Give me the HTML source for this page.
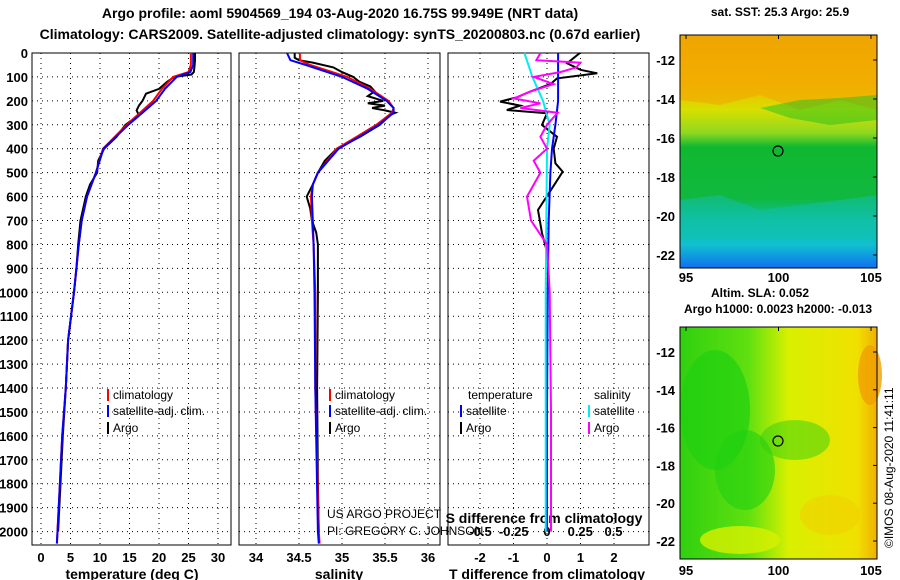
<!DOCTYPE html>
<html><head><meta charset="utf-8"><style>
body{margin:0;background:#fff;}
svg{display:block;font-family:"Liberation Sans",sans-serif;}
.t{font-weight:bold;font-size:14px;fill:#000;}
.ts{font-weight:bold;font-size:12px;fill:#000;}
.tk{font-weight:bold;font-size:13px;fill:#000;}
.lg{font-size:12px;fill:#000;}
</style></head><body>
<svg id="c" width="900" height="580" viewBox="0 0 900 580">
<defs>
<linearGradient id="sst" x1="0" y1="0" x2="0" y2="1">
<stop offset="0" stop-color="#f0a000"/><stop offset="0.22" stop-color="#f4b800"/>
<stop offset="0.32" stop-color="#d8e000"/><stop offset="0.42" stop-color="#90d820"/>
<stop offset="0.48" stop-color="#10b830"/><stop offset="0.7" stop-color="#10b840"/>
<stop offset="0.8" stop-color="#10c0a0"/><stop offset="0.9" stop-color="#10c0d0"/>
<stop offset="1" stop-color="#1070f0"/></linearGradient>
<linearGradient id="sla" x1="0" y1="0" x2="1" y2="0">
<stop offset="0" stop-color="#30d010"/><stop offset="0.35" stop-color="#60e010"/>
<stop offset="0.55" stop-color="#d8f000"/><stop offset="0.9" stop-color="#f0e000"/>
<stop offset="1" stop-color="#f0b000"/></linearGradient>
</defs>
<text class="t" x="340" y="18" text-anchor="middle">Argo profile: aoml 5904569_194 03-Aug-2020 16.75S 99.949E (NRT data)</text>
<text class="t" x="340" y="39" text-anchor="middle">Climatology: CARS2009. Satellite-adjusted climatology: synTS_20200803.nc (0.67d earlier)</text>
<g id="plots"></g>
<g>
<rect x="680" y="35" width="197" height="233" fill="url(#sst)"/>
<path d="M680,100 L720,105 L760,95 L800,110 L840,100 L877,110 L877,35 L680,35Z" fill="#f0a800" opacity="0.6"/>
<path d="M760,108 L800,100 L840,98 L877,95 L877,120 L830,125 L790,118Z" fill="#20c020" opacity="0.5"/>
<path d="M680,200 L720,195 L760,210 L800,205 L840,200 L877,195 L877,240 L680,240Z" fill="#10c0b0" opacity="0.5"/>
<circle cx="778" cy="151" r="5" fill="none" stroke="#000" stroke-width="1.2"/>
<rect x="680" y="35" width="197" height="233" fill="none" stroke="#000"/>
</g>
<text class="ts" x="780" y="16" text-anchor="middle">sat. SST: 25.3 Argo: 25.9</text>
<g>
<rect x="680" y="327" width="197" height="232" fill="url(#sla)"/>
<ellipse cx="715" cy="410" rx="35" ry="60" fill="#20d010" opacity="0.7"/>
<ellipse cx="745" cy="470" rx="30" ry="40" fill="#20d010" opacity="0.6"/>
<ellipse cx="795" cy="440" rx="35" ry="20" fill="#30d010" opacity="0.5"/>
<ellipse cx="740" cy="540" rx="40" ry="14" fill="#d8f000" opacity="0.8"/>
<ellipse cx="870" cy="375" rx="12" ry="30" fill="#f0a000" opacity="0.8"/>
<ellipse cx="830" cy="515" rx="30" ry="20" fill="#f0d000" opacity="0.6"/>
<circle cx="778" cy="441" r="5" fill="none" stroke="#000" stroke-width="1.2"/>
<rect x="680" y="327" width="197" height="232" fill="none" stroke="#000"/>
</g>
<text class="ts" x="760" y="297" text-anchor="middle">Altim. SLA: 0.052</text>
<text class="ts" x="778" y="313" text-anchor="middle">Argo h1000: 0.0023 h2000: -0.013</text>
<text x="893" y="548" font-size="12" transform="rotate(-90 893 548)">©IMOS 08-Aug-2020 11:41:11</text>
<g id="maps"></g>
</svg>
<script>
// ---- data ----
const depthTicks=[0,100,200,300,400,500,600,700,800,900,1000,1100,1200,1300,1400,1500,1600,1700,1800,1900,2000];
const tempTicks=[0,5,10,15,20,25,30];
const salTicks=[34,34.5,35,35.5,36];
const dTTicks=[-2,-1,0,1,2];
const dSTicks=[-0.5,-0.25,0,0.25,0.5];
const latTicks=[-12,-14,-16,-18,-20,-22];
const lonTicks=[95,100,105];

const tDepth=[0,50,80,100,150,200,250,300,350,400,500,600,700,800,900,1000,1200,1400,1600,1800,2000,2050];
const tClim=[25.4,25.4,25,22.4,20.5,19,16.8,14.5,12.5,10.5,9.3,7.8,6.9,6.4,6,5.6,4.6,4.2,3.6,3.2,2.8,2.7];
const tSat=[25.8,25.8,25.3,23,21,19.5,17.2,14.8,12.7,10.6,9.3,7.8,6.9,6.4,6,5.6,4.6,4.2,3.6,3.2,2.8,2.7];
const aDepth=[0,30,60,80,90,100,120,150,170,200,220,240,260,300,350,400,450,500,550,600,700,800,900,1000,1200,1400,1600,1800,2000];
const tArgo=[26.1,26.1,26,25.9,25.5,22.6,21.4,20,17.8,17.2,16.6,16.2,16.6,14.3,12.8,10.7,9.7,9.5,8.3,7.6,6.7,6.3,6,5.6,4.6,4.2,3.7,3.3,2.9];

const sDepth=[0,30,50,100,150,200,230,250,300,350,400,500,550,600,700,800,1000,1400,2000,2050];
const sClim=[34.51,34.51,34.63,35.06,35.33,35.54,35.6,35.58,35.4,35.17,34.94,34.72,34.66,34.64,34.65,34.67,34.69,34.69,34.73,34.74];
const sSat=[34.36,34.4,34.58,35.0,35.3,35.52,35.6,35.6,35.43,35.2,34.96,34.72,34.66,34.65,34.66,34.67,34.68,34.69,34.72,34.73];
const saDepth=[0,20,30,40,60,80,100,120,140,160,180,200,210,220,230,240,250,260,280,300,350,400,450,500,550,600,650,700,750,800,1000,1400,1800,2000];
const sArgo=[34.45,34.45,34.5,34.66,34.9,35.0,35.13,35.2,35.33,35.38,35.3,35.48,35.3,35.5,35.35,35.5,35.62,35.55,35.5,35.44,35.21,34.94,34.8,34.72,34.66,34.59,34.63,34.65,34.7,34.72,34.72,34.71,34.72,34.73];

const dtDepth=[0,43,70,85,106,130,161,185,203,220,238,252,301,350,400,461,496,559,656,753,830];
const dtArgo=[0.98,0.6,1.0,1.5,0.3,0.1,-0.5,-0.9,-1.4,-0.8,-1.2,0.0,-0.15,0.3,0.2,0.25,0.47,0.18,-0.27,-0.15,0.0];
const dtsDepth=[0,100,200,300,400,500,700,1000,1500,2000];
const dtSat=[0.33,0.33,0.33,0.25,0.15,0.1,0.05,0.02,0.0,0.0];
const dsDepth=[0,30,40,60,80,100,130,160,190,210,230,250,300,350,400,450,500,600,700,800,1000,1500,2000];
const dsArgo=[-0.05,-0.08,0.25,0.22,0.1,-0.1,0.05,-0.12,-0.25,-0.05,-0.2,0.08,0.0,-0.05,0.0,-0.1,-0.05,-0.15,-0.12,0.0,0.02,0.03,0.03];
const dssDepth=[0,100,200,300,400,1000,2000];
const dsSat=[-0.17,-0.11,-0.03,0.02,0.0,-0.01,-0.01];

// ---- axes ----
const Y0=53,YB=545;
const yD=d=>Y0+d*0.2393;
const xT=v=>41+v*5.9;
const xS=v=>256+(v-34)*86;
const xDT=v=>547+v*33.5;
const xDS=v=>547+v*133;
const NS='http://www.w3.org/2000/svg';
const g=document.getElementById('plots');
function el(tag,attrs,parent){const e=document.createElementNS(NS,tag);for(const k in attrs)e.setAttribute(k,attrs[k]);(parent||g).appendChild(e);return e;}
const panels=[{x0:32,x1:231,name:'temperature-panel'},{x0:239,x1:440,name:'salinity-panel'},{x0:448,x1:649,name:'difference-panel'}];
panels.forEach(p=>{
  const r=el('rect',{x:p.x0,y:Y0,width:p.x1-p.x0,height:YB-Y0,fill:'none',stroke:'#000'});
  
  
  depthTicks.forEach(d=>{const l=el('line',{x1:p.x0,x2:p.x1,y1:yD(d),y2:yD(d),stroke:'#000','stroke-dasharray':'1 4'});
    
    });
});
depthTicks.forEach(d=>{const t=el('text',{x:28,y:yD(d)+5,'text-anchor':'end',class:'tk'});t.textContent=d;
  
  });
function vgrid(ticks,f,lblY){ticks.forEach(v=>{
  const l=el('line',{x1:f(v),x2:f(v),y1:Y0,y2:YB,stroke:'#000','stroke-dasharray':'1 4'});
  
  
  const t=el('text',{x:f(v),y:lblY,'text-anchor':'middle',class:'tk'});t.textContent=v;
  
  });}
vgrid(tempTicks,xT,562);vgrid(salTicks,xS,562);vgrid(dTTicks,xDT,562);
dSTicks.forEach(v=>{const t=el('text',{x:xDS(v),y:536,'text-anchor':'middle',class:'tk'});t.textContent=v;
  
  });
[['temperature (deg C)',132],['salinity',339],['T difference from climatology',547]].forEach(a=>{
  const t=el('text',{x:a[1],y:579,'text-anchor':'middle',class:'t'});t.textContent=a[0];
  
  });
const st=el('text',{x:544,y:523,'text-anchor':'middle',class:'t'});st.textContent='S difference from climatology';


function line(xs,ds,fx,col,w,name){
  const pts=xs.map((v,i)=>fx(v).toFixed(1)+','+yD(ds[i]).toFixed(1)).join(' ');
  const p=el('polyline',{points:pts,fill:'none',stroke:col,'stroke-width':w});
  
  }
line(tArgo,aDepth,xT,'#000',2,'temp-argo-line');
line(tClim,tDepth,xT,'#f00',2,'temp-climatology-line');
line(tSat,tDepth,xT,'#00f',2,'temp-satellite-line');
line(sArgo,saDepth,xS,'#000',2,'sal-argo-line');
line(sClim,sDepth,xS,'#f00',2,'sal-climatology-line');
line(sSat,sDepth,xS,'#00f',2,'sal-satellite-line');
line(dtArgo,dtDepth,xDT,'#000',2,'tdiff-argo-line');
line(dtSat,dtsDepth,xDT,'#00f',2,'tdiff-satellite-line');
line(dsSat,dssDepth,xDS,'#0ee',2,'sdiff-satellite-line');
line(dsArgo,dsDepth,xDS,'#f0f',2,'sdiff-argo-line');
function leg(x,y,col,txt){el('line',{x1:x,x2:x,y1:y-10,y2:y+2,stroke:col,'stroke-width':2});
  const t=el('text',{x:x+5,y:y,class:'lg'});t.textContent=txt;
  
  }
[[108,'climatology','#f00',399],[108,'satellite-adj. clim.','#00f',415],[108,'Argo','#000',432]].forEach(a=>leg(a[0],a[3],a[2],a[1]));
[[330,'climatology','#f00',399],[330,'satellite-adj. clim.','#00f',415],[330,'Argo','#000',432]].forEach(a=>leg(a[0],a[3],a[2],a[1]));
const h1=el('text',{x:468,y:399,class:'lg'});h1.textContent='temperature';

const h2=el('text',{x:594,y:399,class:'lg'});h2.textContent='salinity';

leg(461,415,'#00f','satellite');leg(461,432,'#000','Argo');
leg(589,415,'#0ee','satellite');leg(589,432,'#f0f','Argo');
const c1=el('text',{x:327,y:518,class:'lg'});c1.textContent='US ARGO PROJECT';

const c2=el('text',{x:327,y:535,class:'lg'});c2.textContent='PI: GREGORY C. JOHNSON';

const mg=document.getElementById('maps');
[[35,60,19.5],[327,352,18.9]].forEach(m=>{
  latTicks.forEach((v,i)=>{const y=m[1]+i*m[2]*2;
    const t=el('text',{x:675,y:y+5,'text-anchor':'end',class:'tk'},mg);t.textContent=v;
    
    
    el('line',{x1:873,x2:877,y1:y,y2:y,stroke:'#000'},mg);});
  lonTicks.forEach(v=>{const x=686+(v-95)*18.5;
    el('line',{x1:x,x2:x,y1:m[0],y2:m[0]+4,stroke:'#000'},mg);});
});
lonTicks.forEach(v=>{const x=686+(v-95)*18.5;
  [282,575].forEach(y=>{const t=el('text',{x:x,y:y,'text-anchor':'middle',class:'tk'},mg);t.textContent=v;
    
    });});
</script>
</body></html>
